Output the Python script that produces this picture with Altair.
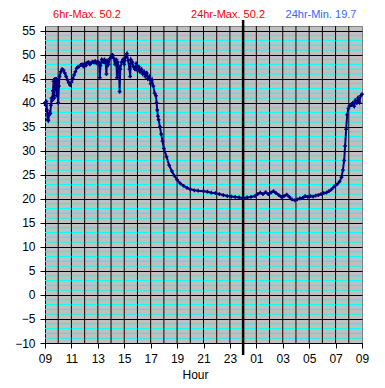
import altair as alt
import pandas as pd

# ---- data ----
hours = [
    9.00, 9.05, 9.10, 9.15, 9.20, 9.25, 9.30, 9.35, 9.40, 9.45, 9.50, 9.55, 9.60, 9.65, 9.70,
    9.75, 9.80, 9.85, 9.90, 9.95, 10.00, 10.05, 10.10, 10.20, 10.30, 10.40, 10.50, 10.60, 10.70,
    10.80, 10.90, 11.00, 11.10, 11.20, 11.30, 11.40, 11.50, 11.60, 11.70, 11.80, 11.90, 12.00,
    12.10, 12.20, 12.30, 12.40, 12.50, 12.60, 12.70, 12.80, 12.90, 13.00, 13.10, 13.15, 13.20,
    13.30, 13.40, 13.50, 13.60, 13.65, 13.70, 13.80, 13.90, 14.00, 14.10, 14.20, 14.30, 14.40,
    14.45, 14.50, 14.60, 14.65, 14.70, 14.80, 14.90, 15.00, 15.10, 15.20, 15.30, 15.40, 15.45,
    15.50, 15.60, 15.70, 15.80, 15.90, 16.00, 16.10, 16.20, 16.30, 16.40, 16.50, 16.60, 16.70,
    16.80, 16.90, 17.00, 17.10, 17.20, 17.30, 17.40, 17.45, 17.50, 17.55, 17.60, 17.70, 17.80,
    17.90, 18.00, 18.20, 18.40, 18.60, 18.80, 19.00, 19.25, 19.50, 19.75, 20.00, 20.30, 20.60,
    21.00, 21.30, 21.60, 21.90, 22.20, 22.50, 22.80, 23.10, 23.40, 23.70, 24.00, 24.30, 24.60,
    24.90, 25.10, 25.30, 25.50, 25.70, 25.90, 26.10, 26.30, 26.50, 26.70, 26.90, 27.10, 27.30,
    27.50, 27.70, 27.90, 28.10, 28.30, 28.50, 28.70, 28.90, 29.10, 29.30, 29.50, 29.70, 29.90,
    30.10, 30.30, 30.50, 30.70, 30.90, 31.10, 31.30, 31.45, 31.55, 31.65, 31.72, 31.80, 31.88,
    31.97, 32.05, 32.20, 32.30, 32.40, 32.50, 32.60, 32.70, 32.80, 32.90, 33.00,
]
temps = [
    40.0, 39.5, 40.3, 38.5, 36.5, 36.3, 37.5, 38.0, 37.8, 39.5, 41.0, 40.5, 42.5, 44.5, 41.0,
    45.0, 43.0, 45.0, 41.5, 44.5, 40.0, 43.5, 45.5, 46.5, 47.0, 46.8, 46.2, 45.5, 44.8,
    44.2, 43.7, 44.3, 45.0, 45.8, 46.5, 47.2, 47.5, 47.6, 47.9, 48.0, 47.6, 48.2,
    47.8, 48.4, 48.5, 48.0, 48.3, 48.6, 48.4, 48.7, 48.2, 48.6, 48.3, 45.2, 47.8,
    49.0, 48.5, 49.0, 48.2, 46.0, 48.8, 48.0, 49.2, 49.5, 50.0, 49.3, 48.0, 49.0,
    45.2, 48.5, 47.5, 42.3, 47.0, 48.5, 49.0, 48.0, 49.5, 50.2, 48.8, 47.0, 45.5,
    49.0, 48.5, 47.5, 47.0, 48.2, 46.8, 47.5, 46.5, 47.0, 46.0, 46.5, 45.5, 46.2,
    45.0, 45.5, 44.0, 44.8, 43.5, 42.0, 41.5, 40.0, 38.5, 37.2, 36.5, 35.0, 33.5,
    32.0, 30.5, 28.8, 27.0, 25.8, 24.8, 24.0, 23.2, 22.7, 22.3, 22.0, 21.8, 21.7,
    21.6, 21.5, 21.3, 21.2, 21.0, 20.8, 20.6, 20.5, 20.4, 20.3, 20.2, 20.3, 20.4,
    20.6, 21.0, 21.3, 21.0, 21.4, 21.0, 21.3, 21.6, 21.2, 20.8, 20.4, 20.6, 20.9,
    20.4, 19.9, 19.7, 19.9, 20.1, 20.2, 20.6, 20.4, 20.6, 20.5, 20.7, 20.8, 21.0,
    21.2, 21.3, 21.6, 22.0, 22.6, 23.0, 23.6, 24.5, 26.0, 28.0, 31.0, 34.5, 37.5,
    38.8, 39.3, 39.5, 40.0, 39.3, 40.5, 40.0, 41.0, 40.2, 41.5, 41.8,
]

y_major = [-10, -5, 0, 5, 10, 15, 20, 25, 30, 35, 40, 45, 50, 55]
y_minor = [v for v in range(-10, 56) if v % 5 != 0]
x_ticks = [9, 11, 13, 15, 17, 19, 21, 23, 25, 27, 29, 31, 33]
x_grid = list(range(10, 33))
midnight = [24]

stat_labels = ["6hr-Max. 50.2", "24hr-Max. 50.2", "24hr-Min. 19.7"]
stat_colors = ["#FF0000", "#FF0000", "#3366FF"]
stat_px = [42, 183, 276]

FONT = "Liberation Sans"
W, H = 317, 317

xscale = alt.Scale(domain=[9, 33], nice=False, zero=False)
yscale = alt.Scale(domain=[-10, 56], nice=False, zero=False)

yaxis = alt.Axis(
    values=y_major, title=None, grid=True, gridColor="#000000", gridWidth=1,
    gridOpacity=1, domainColor="#000000", tickColor="#000000", tickSize=5,
    labelPadding=5, labelFontSize=12, labelFont=FONT, labelColor="#000000",
    labelFlush=False, labelOverlap=False,
)
xaxis = alt.Axis(
    values=x_ticks, grid=False, title="Hour", domainColor="#000000",
    tickColor="#000000", tickSize=5, labelPadding=5, labelFontSize=12,
    labelFont=FONT, labelColor="#000000", labelFlush=False, labelOverlap=False,
    labelExpr="(datum.value % 24) < 10 ? '0' + (datum.value % 24) : '' + (datum.value % 24)",
    titleFont=FONT, titleFontSize=12, titleFontWeight="normal", titleColor="#000000",
    titleX=150, titleY=35, titleBaseline="alphabetic", titleAlign="center",
)

series = pd.DataFrame({"hour": hours, "temp": temps})

minor = alt.Chart(pd.DataFrame({"level": y_minor})).mark_rule(
    color="#00FFFF", strokeWidth=1
).encode(y=alt.Y("level:Q", scale=yscale, axis=yaxis, title=None))

vgrid = alt.Chart(pd.DataFrame({"hour": x_grid})).mark_rule(
    color="#000000", strokeWidth=1
).encode(x=alt.X("hour:Q", scale=xscale, axis=xaxis, title="Hour"))

mid = alt.Chart(pd.DataFrame({"hour": midnight})).mark_rule(
    color="#000000", strokeWidth=2.5, clip=False
).encode(
    x=alt.X("hour:Q", scale=xscale, axis=xaxis, title="Hour"),
    y=alt.value(-6),
    y2=alt.value(H + 12),
)

line = alt.Chart(series).mark_line(
    color="#000080", strokeWidth=2,
    point=alt.OverlayMarkDef(shape="cross", size=14, color="#000080", filled=True),
).encode(
    x=alt.X("hour:Q", scale=xscale, axis=xaxis, title="Hour"),
    y=alt.Y("temp:Q", scale=yscale, axis=yaxis, title=None),
)

texts = []
for lab, col, px in zip(stat_labels, stat_colors, stat_px):
    texts.append(
        alt.Chart(pd.DataFrame({"label": [lab]})).mark_text(
            font=FONT, fontSize=11, baseline="middle", align="center", clip=False, color=col
        ).encode(x=alt.value(px), y=alt.value(-11), text="label:N")
    )

chart = alt.layer(minor, vgrid, mid, line, *texts).properties(
    width=W, height=H,
    autosize=alt.AutoSizeParams(type="none"),
    padding={"left": 37, "top": 18, "right": 15, "bottom": 42},
    background="#FFFFFF",
).configure_view(fill="#C0C0C0", stroke="#808080", strokeWidth=1)

chart.save("out.html", embed_options={"renderer": "svg", "actions": False})
